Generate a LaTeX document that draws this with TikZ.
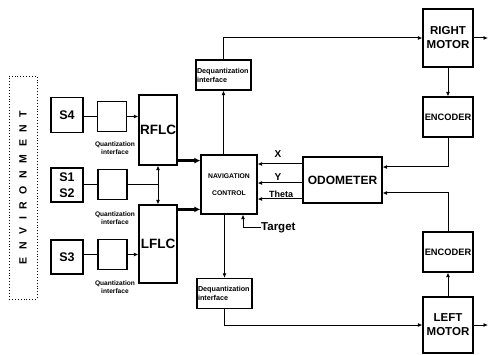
\documentclass[tikz,border=0pt]{standalone}
\usepackage{fontspec}
\setmainfont{Liberation Sans}
\usetikzlibrary{arrows.meta,positioning}
\newcommand\envgap{\hspace{7.6pt}}
\tikzset{
  >={Latex[length=4.5pt,width=4pt]},
  blk/.style   ={draw,line width=1.2pt,inner sep=1pt,align=center,font=\bfseries},
  sbox/.style  ={blk,minimum width=32pt,minimum height=35pt,
                 font=\fontsize{12.5}{16}\selectfont\bfseries},
  qbox/.style  ={blk,minimum width=29pt,minimum height=30pt},
  flc/.style   ={blk,minimum width=38pt,font=\fontsize{13.5}{15}\selectfont\bfseries},
  mot/.style   ={blk,minimum width=50pt,font=\fontsize{11.5}{14}\selectfont\bfseries},
  enc/.style   ={blk,minimum width=50pt,minimum height=40pt,
                 font=\fontsize{9.3}{11}\selectfont\bfseries},
  dq/.style    ={blk,align=left,text width=53pt,minimum height=30pt,
                 font=\fontsize{7.2}{9}\selectfont\bfseries},
  qlbl/.style  ={align=center,inner sep=0pt,font=\fontsize{6.6}{8.5}\selectfont\bfseries},
  lbl/.style   ={inner sep=0pt,font=\fontsize{10}{12}\selectfont\bfseries},
  ln/.style    ={line width=1pt},
  ar/.style    ={->,line width=1pt},
  arb/.style   ={-{Latex[length=6pt,width=6pt]},line width=2.4pt},
}
\begin{document}
\begin{tikzpicture}[x=1pt,y=-1pt]
\useasboundingbox (0,0) rectangle (495,355);

% environment
\node[draw,dotted,line width=0.9pt,minimum width=28pt,minimum height=223pt] (env) at (23,187.5) {};
\node[rotate=90,font=\fontsize{10.5}{11}\selectfont\bfseries] (envtxt) at (env)
  {E\envgap N\envgap V\envgap I\envgap R\envgap O\envgap N\envgap M\envgap E\envgap N\envgap T};

% sensors and quantization
\node[sbox] (s4)  at (67,115) {S4};
\node[qbox] (q4)  at (112,116.5) {};
\node[sbox,minimum height=34pt] (s12) at (67,185) {S1\\S2};
\node[qbox] (q12) at (112.5,184.5) {};
\node[sbox,minimum height=34pt] (s3)  at (67,257) {S3};
\node[qbox] (q3)  at (112.5,254.5) {};
\node[qlbl] (ql4)  at (115,148) {Quantization\\interface};
\node[qlbl] (ql12) at (115,218) {Quantization\\interface};
\node[qlbl] (ql3)  at (115,287) {Quantization\\interface};

\node[flc,minimum height=70pt] (rflc) at (158,130) {RFLC};
\node[flc,minimum height=78pt] (lflc) at (158,244) {LFLC};

% control part
\node[blk,minimum width=56pt,minimum height=59pt,
      font=\fontsize{6.8}{17}\selectfont\bfseries] (nav) at (229,184.5) {NAVIGATION\\CONTROL};
\node[dq] (dqr) at (223.5,75) {Dequantization interface};
\node[dq] (dql) at (224.5,293.5) {Dequantization interface};
\node[blk,minimum width=79pt,minimum height=46pt,
      font=\fontsize{12}{14}\selectfont\bfseries] (odo) at (342.5,180) {ODOMETER};

\node[mot,minimum height=58pt] (rmot) at (448,38) {RIGHT\\MOTOR};
\node[enc] (renc) at (448,117) {ENCODER};
\node[enc] (lenc) at (448,252) {ENCODER};
\node[mot,minimum height=56pt] (lmot) at (448,325) {LEFT\\MOTOR};

\node[lbl] (lx) at (278,154) {X};
\node[lbl] (ly) at (278,177) {Y};
\node[lbl,font=\fontsize{9}{11}\selectfont\bfseries] (lth) at (281,194) {Theta};
\node[lbl,font=\fontsize{11.5}{13}\selectfont\bfseries,anchor=west] (tgt) at (261,228) {Target};
\coordinate (rout) at (488,38);
\coordinate (lout) at (488,325);

% left side
\draw[ln] (q4.west -| s4.east) -- (q4.west);
\draw[ar] (q4.east) -- (q4.east -| rflc.west);
\draw[ln] (q12.west -| s12.east) -- (q12.west);
\draw[ln] (q12.east) -- (q12.east -| rflc.south);
\draw[<->,line width=1pt] (rflc.south) -- (lflc.north);
\draw[ln] (q3.west -| s3.east) -- (q3.west);
\draw[ar] (q3.east) -- (q3.east -| lflc.west);
\draw[arb] ([yshift=5pt]rflc.south east) -- ([yshift=5pt]rflc.south east -| nav.west);
\draw[arb] ([yshift=-5pt]lflc.north east) -- ([yshift=-5pt]lflc.north east -| nav.west);

% odometer feedback
\draw[ar] ([yshift=16pt]odo.west) -- ([yshift=16pt]odo.west -| nav.east);
\draw[ar] ([yshift=-3pt]odo.west) -- ([yshift=-3pt]odo.west -| nav.east);
\draw[ar] ([yshift=-19pt]odo.west) -- ([yshift=-19pt]odo.west -| nav.east);
\draw[ar] (tgt.west) -| ([xshift=14pt]nav.south);

% to the motors
\draw[ar] (dqr.south |- nav.north) -- (dqr.south);
\draw[ar] (dqr.north) |- (rmot.west);
\draw[ar] (dql.north |- nav.south) -- (dql.north);
\draw[ar] (dql.south) |- (lmot.west);
\draw[ar] (rmot.east) -- (rout);
\draw[ar] (lmot.east) -- (lout);

% encoders
\draw[ar] (rmot.south) -- (renc.north);
\draw[ar] (renc.south) |- ([yshift=13pt]odo.east);
\draw[ar] (lmot.north) -- (lenc.south);
\draw[ar] (lenc.north) |- ([yshift=-13pt]odo.east);
\end{tikzpicture}
\end{document}
